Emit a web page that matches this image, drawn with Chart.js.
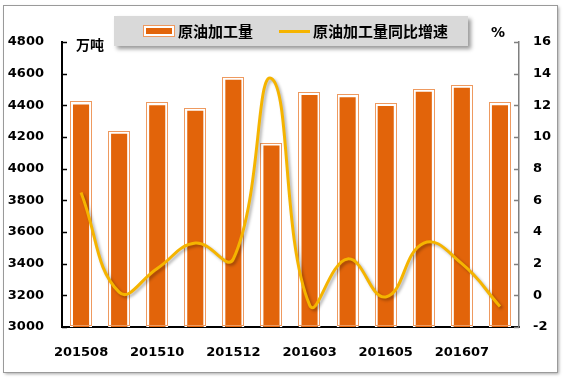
<!DOCTYPE html>
<html>
<head>
<meta charset="utf-8">
<script src="https://cdn.jsdelivr.net/npm/chart.js@4.4.1/dist/chart.umd.min.js"></script>
<style>
  body { margin: 0; background: #fff; }
  #wrap { position: relative; width: 563px; height: 380px; }
  #legend {
    position: absolute; left: 114px; top: 16px; width: 354px; height: 30px;
    background: #D9D9D9; box-shadow: 3px 3px 4px rgba(0,0,0,0.4);
    font: bold 15px "Noto Sans CJK SC", sans-serif; color: #000; z-index: 2;
  }
  .lg { position: absolute; top: 5px; line-height: 20px; }
  #boxIcon {
    position: absolute; left: 30px; top: 10px; width: 26px; height: 6px;
    background: #E2640A; border: 2px solid #fff; outline: 1px solid #EE9A60;
  }
  #lineIcon { position: absolute; left: 165px; top: 14px; width: 31px; height: 3px; background: #F5B400; }
  .unit { position: absolute; font: bold 14px "Noto Sans CJK SC", sans-serif; color: #000; z-index: 2; }
</style>
</head>
<body>
<div id="wrap">
  <canvas id="oilChart" width="563" height="380"></canvas>
  <div id="legend">
    <div id="boxIcon"></div>
    <div class="lg" style="left:64px">原油加工量</div>
    <div id="lineIcon"></div>
    <div class="lg" style="left:199px">原油加工量同比增速</div>
  </div>
  <div class="unit" style="left:76px; top:34px">万吨</div>
  <div class="unit" style="left:491px; top:24px; font-family:'DejaVu Sans'">%</div>
</div>
<script>
  const categories = ['201508', '201509', '201510', '201511', '201512', '201602',
                      '201603', '201604', '201605', '201606', '201607', '201608'];
  const throughput = [4425, 4240, 4420, 4385, 4580, 4165, 4485, 4470, 4415, 4505, 4530, 4420];
  const growth = [6.5, 0.2, 1.7, 3.3, 2.3, 13.7, -0.6, 2.3, -0.1, 3.3, 2.0, -0.7];
  const leftRange = [3000, 4800, 200];
  const rightRange = [-2, 16, 2];

  const tickFont = { family: 'DejaVu Sans', size: 13, weight: 'bold' };

  // frame, inward tick marks, bar outline, line shadow
  const decor = {
    id: 'decor',
    beforeDraw(chart) {
      const c = chart.ctx;
      c.save();
      c.shadowColor = 'rgba(0,0,0,0.35)';
      c.shadowBlur = 3; c.shadowOffsetX = 2; c.shadowOffsetY = 2;
      c.fillStyle = '#fff';
      c.fillRect(3, 5, 554, 367);
      c.restore();
      c.save();
      c.strokeStyle = '#9A9A9A';
      c.lineWidth = 1;
      c.strokeRect(3.5, 5.5, 554, 367);
      c.restore();
    },
    beforeDatasetDraw(chart, args) {
      if (args.index === 1) {
        const c = chart.ctx;
        c.save();
        c.shadowColor = 'rgba(0,0,0,0.3)';
        c.shadowBlur = 3; c.shadowOffsetX = 2; c.shadowOffsetY = 2;
      }
    },
    afterDatasetDraw(chart, args) {
      const c = chart.ctx;
      if (args.index === 1) { c.restore(); return; }
      if (args.index === 0) {
        const bottom = chart.scales.y.getPixelForValue(leftRange[0]);
        c.save();
        c.strokeStyle = '#EE9A60';
        c.lineWidth = 1;
        args.meta.data.forEach(bar => {
          const x = bar.x, y = bar.y, w = bar.width;
          c.strokeRect(Math.round(x - w / 2) + 0.5, Math.round(y) + 0.5, Math.round(w) - 1, Math.round(bottom - y) - 2);
        });
        c.restore();
      }
    },
    afterDraw(chart) {
      const c = chart.ctx;
      c.save();
      const yl = chart.scales.y, yr = chart.scales.y1;
      c.strokeStyle = '#000'; c.lineWidth = 1.5;
      yl.ticks.forEach(t => {
        const py = Math.round(yl.getPixelForValue(t.value)) + 0.5;
        c.beginPath(); c.moveTo(yl.right, py); c.lineTo(yl.right + 5, py); c.stroke();
      });
      c.strokeStyle = '#7F7F7F';
      yr.ticks.forEach(t => {
        const py = Math.round(yr.getPixelForValue(t.value)) + 0.5;
        c.beginPath(); c.moveTo(yr.left, py); c.lineTo(yr.left - 5, py); c.stroke();
      });
      c.restore();
    }
  };

  new Chart(document.getElementById('oilChart'), {
    type: 'bar',
    data: {
      labels: categories,
      datasets: [{
        type: 'bar',
        label: '原油加工量',
        data: throughput,
        yAxisID: 'y',
        backgroundColor: '#E2640A',
        borderColor: '#fff',
        borderWidth: 3,
        borderSkipped: false,
        barPercentage: 0.58,
        categoryPercentage: 1,
        order: 1
      }, {
        type: 'line',
        label: '原油加工量同比增速',
        data: growth,
        yAxisID: 'y1',
        borderColor: '#F5B400',
        borderWidth: 3,
        pointRadius: 0,
        tension: 0.45,
        fill: false,
        order: 0
      }]
    },
    options: {
      responsive: false,
      animation: false,
      layout: { padding: { top: 42, left: 0, right: 0, bottom: 0 } },
      plugins: { legend: { display: false }, tooltip: { enabled: false } },
      scales: {
        x: {
          grid: { display: false },
          border: { color: '#000', width: 2 },
          ticks: {
            font: tickFont, color: '#000', autoSkip: false, maxRotation: 0, padding: 10,
            callback: (v, i) => (i % 2 === 0 ? categories[i] : '')
          },
          afterFit: s => { s.height = 53; }
        },
        y: {
          position: 'left',
          min: leftRange[0], max: leftRange[1],
          grid: { display: false },
          border: { color: '#000', width: 2 },
          ticks: { stepSize: leftRange[2], font: tickFont, color: '#000', padding: 10, callback: v => String(v) },
          afterFit: s => { s.width = 62; }
        },
        y1: {
          position: 'right',
          min: rightRange[0], max: rightRange[1],
          grid: { display: false },
          border: { color: '#7F7F7F', width: 1.5 },
          ticks: { stepSize: rightRange[2], font: tickFont, color: '#000', padding: 6, callback: v => String(v) },
          afterFit: s => { s.width = 44; }
        }
      }
    },
    plugins: [decor]
  });
</script>
</body>
</html>
